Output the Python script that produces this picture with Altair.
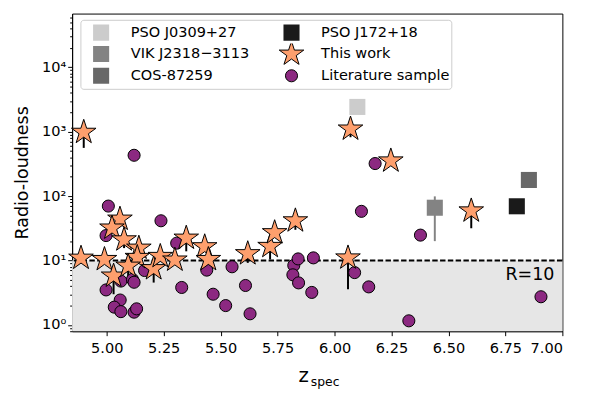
import altair as alt
import pandas as pd

# ---------------- data ----------------
# Literature sample (z_spec, radio-loudness)
lit_z = [5.007, 5.238, 4.997, 5.307, 5.062, 5.113, 5.120, 4.997, 5.059, 5.033, 5.062,
         5.120, 5.131, 5.329, 5.166, 5.439, 5.467, 5.522, 5.550, 5.609, 5.629, 5.821,
         5.840, 5.817, 5.842, 5.900, 5.907, 6.178, 6.118, 6.377, 6.088, 6.150, 6.326,
         6.906, 5.120]
lit_R = [70, 41.4, 24.4, 18.6, 4.8, 5.1, 4.6, 3.5, 2.44, 1.89, 1.61,
         1.58, 1.78, 3.82, 7.0, 7.1, 3.0, 2.0, 8.0, 4.1, 1.49, 8.4,
         10.6, 6.0, 4.5, 3.2, 11.0, 320, 58, 24.8, 6.5, 3.9, 1.16,
         2.74, 430]

# This work
tw_z = [4.899, 4.887, 4.990, 5.058, 5.023, 5.076, 5.141, 5.134, 5.030, 5.094, 5.206,
        5.235, 5.299, 5.349, 5.430, 5.446, 5.619, 5.717, 5.737, 5.828, 6.059, 6.070,
        6.247, 6.600]
tw_R = [980, 10.9, 10.4, 44, 32, 21, 15.6, 11.2, 5.75, 8.2, 7.5,
        11.6, 10.2, 22.3, 16.4, 10.4, 12.8, 16.6, 27.1, 41.4, 11, 1100,
        352, 59]

# error bars of "This work" (lower end -> star value)
err_z = [4.899, 6.070, 6.059, 6.600, 5.030, 5.094, 5.206, 5.349, 5.446, 5.619, 5.717, 5.828, 5.076]
err_lo = [560, 820, 3.6, 31.7, 3.0, 5.1, 4.55, 13.9, 6.5, 9.2, 10.4, 30, 15.6]
err_hi = [980, 1100, 11, 59, 5.75, 8.2, 7.5, 22.3, 10.4, 12.8, 16.6, 41.4, 21]

# individual quasars
q_names = ["PSO J0309+27", "VIK J2318\u22123113", "COS-87259", "PSO J172+18"]
q_z = [6.10, 6.44, 6.853, 6.80]
q_R = [2420, 66, 178, 69.5]
vik_z = [6.44]
vik_lo = [20]
vik_hi = [99]

threshold = [10]
x_domain = [4.848, 7.0]
y_domain = [0.8, 68000]
x_ticks = [5.0, 5.25, 5.5, 5.75, 6.0, 6.25, 6.5, 6.75, 7.0]
y_ticks = [0.8, 0.9,
           1, 2, 3, 4, 5, 6, 7, 8, 9,
           10, 20, 30, 40, 50, 60, 70, 80, 90,
           100, 200, 300, 400, 500, 600, 700, 800, 900,
           1000, 2000, 3000, 4000, 5000, 6000, 7000, 8000, 9000,
           10000, 20000, 30000, 40000, 50000, 60000]

# ---------------- styling ----------------
STAR = ("M0,-1L0.2245,-0.309L0.9511,-0.309L0.3633,0.118L0.5878,0.809L0,0.382"
        "L-0.5878,0.809L-0.3633,0.118L-0.9511,-0.309L-0.2245,-0.309Z")
order = ["PSO J0309+27", "VIK J2318\u22123113", "COS-87259", "PSO J172+18", "This work", "Literature sample"]
fills = ["#cccccc", "#838383", "#686868", "#1a1a1a", "#fe9f6d", "#8c2981"]
shapes = ["square", "square", "square", "square", STAR, "circle"]
sizes = [265, 265, 265, 265, 686, 150]
strokes = ["transparent", "transparent", "transparent", "transparent", "black", "black"]

pts = pd.concat([
    pd.DataFrame({"z": lit_z, "R": lit_R, "g": "Literature sample"}),
    pd.DataFrame({"z": tw_z, "R": tw_R, "g": "This work"}),
    pd.DataFrame({"z": q_z, "R": q_R, "g": q_names}),
], ignore_index=True)

xs = alt.Scale(domain=x_domain, nice=False, zero=False)
ys = alt.Scale(type="log", domain=y_domain, nice=False)

xaxis = alt.Axis(values=x_ticks, format=".2f", title=None, grid=False,
                 tickSize=4.5, tickColor="black", domainColor="black",
                 labelFontSize=14.7, labelColor="black", labelPadding=5,
                 labelFont="DejaVu Sans")
decades = "indexof([1,10,100,1000,10000], datum.value) >= 0"
yaxis = alt.Axis(values=y_ticks, title="Radio-loudness", grid=False,
                 labelExpr=("datum.value == 1 ? '10\u2070' : datum.value == 10 ? '10\u00b9' : "
                            "datum.value == 100 ? '10\u00b2' : datum.value == 1000 ? '10\u00b3' : "
                            "datum.value == 10000 ? '10\u2074' : ''"),
                 tickSize={"condition": {"test": decades, "value": 4.5}, "value": 2.5},
                 tickColor="black", domainColor="black", labelOverlap=False, labelBound=False,
                 labelFontSize=14.7, labelColor="black", labelPadding=2,
                 labelFont="DejaVu Sans",
                 titleFontSize=17.7, titleFontWeight="normal", titleColor="black",
                 titleFont="DejaVu Sans", titlePadding=10)

leg = alt.Legend(title=None, orient="none", legendX=8.4, legendY=6.3, columns=2,
                 padding=2, symbolOffset=5, labelOffset=16, columnPadding=23, rowPadding=0,
                 clipHeight=21.5, labelFont="DejaVu Sans", labelFontSize=14.7,
                 labelColor="black", fillColor="rgba(255,255,255,0.8)",
                 strokeColor="#cccccc", cornerRadius=3, symbolStrokeWidth=1,
                 symbolOpacity=1, labelLimit=300)

band = alt.Chart(pd.DataFrame({"x0": [x_domain[0]], "x1": [x_domain[1]],
                               "y0": [y_domain[0]], "y1": threshold})).mark_rect(
    color="#e6e6e6").encode(
    x=alt.X("x0:Q", scale=xs, axis=xaxis), x2="x1:Q",
    y=alt.Y("y0:Q", scale=ys, axis=yaxis), y2="y1:Q")

dashed = alt.Chart(pd.DataFrame({"t": threshold})).mark_rule(
    color="black", strokeDash=[5.5, 2.4], strokeWidth=2).encode(
    y=alt.Y("t:Q", scale=ys))

errs = alt.Chart(pd.DataFrame({"z": err_z, "lo": err_lo, "hi": err_hi})).mark_rule(
    color="black", strokeWidth=2).encode(
    x=alt.X("z:Q", scale=xs), y=alt.Y("lo:Q", scale=ys), y2="hi:Q")

vik_err = alt.Chart(pd.DataFrame({"z": vik_z, "lo": vik_lo, "hi": vik_hi})).mark_rule(
    color="#838383", strokeWidth=2).encode(
    x=alt.X("z:Q", scale=xs), y=alt.Y("lo:Q", scale=ys), y2="hi:Q")

points = alt.Chart(pts).mark_point(filled=True, opacity=1, strokeWidth=1, strokeOpacity=1).encode(
    x=alt.X("z:Q", scale=xs),
    y=alt.Y("R:Q", scale=ys),
    fill=alt.Fill("g:N", scale=alt.Scale(type="ordinal", domain=order, range=fills), legend=leg),
    shape=alt.Shape("g:N", scale=alt.Scale(type="ordinal", domain=order, range=shapes), legend=leg),
    size=alt.Size("g:N", scale=alt.Scale(type="ordinal", domain=order, range=sizes), legend=leg),
    stroke=alt.Stroke("g:N", scale=alt.Scale(type="ordinal", domain=order, range=strokes), legend=leg),
)

r_label = alt.Chart(pd.DataFrame({"x": [6.965], "y": [5.0], "t": ["R=10"]})).mark_text(
    align="right", baseline="alphabetic", fontSize=17.7, font="DejaVu Sans", color="black").encode(
    x=alt.X("x:Q", scale=xs), y=alt.Y("y:Q", scale=ys), text="t:N")

xt_main = alt.Chart(pd.DataFrame({"t": ["z"]})).mark_text(
    align="left", baseline="alphabetic", fontSize=20, font="DejaVu Sans", color="black").encode(
    x=alt.value(229.5), y=alt.value(373), text="t:N")
xt_sub = alt.Chart(pd.DataFrame({"t": ["spec"]})).mark_text(
    align="left", baseline="alphabetic", fontSize=12.5, font="DejaVu Sans", color="black").encode(
    x=alt.value(242), y=alt.value(378), text="t:N")

chart = alt.layer(band, dashed, errs, vik_err, points, r_label, xt_main, xt_sub).properties(
    width=497, height=322,
    autosize=alt.AutoSizeParams(type="none"),
    padding={"left": 65, "top": 3, "right": 28, "bottom": 62},
).configure(font="DejaVu Sans").configure_view(stroke="black", strokeWidth=1)

chart.save("out.html", embed_options={"renderer": "svg", "actions": False})
